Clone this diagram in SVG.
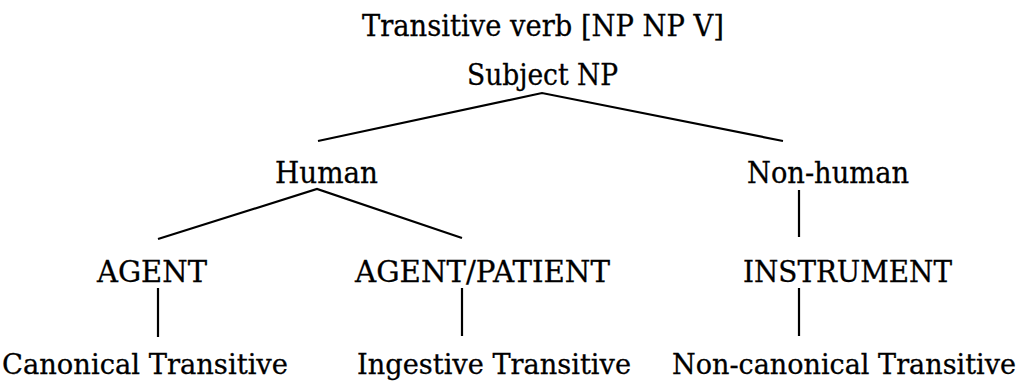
<svg xmlns="http://www.w3.org/2000/svg" width="1022" height="382" viewBox="0 0 1022 382">
  <style>
    .lbl { font-family: "DejaVu Serif", "Liberation Serif", serif; font-size: 29px; fill: #000; stroke: #000; stroke-width: 0.3; }
    .leaf { font-size: 28px; }
    .edge { fill: none; stroke: #000; stroke-width: 2.2; stroke-linejoin: miter; stroke-linecap: butt; }
  </style>
  <rect width="1022" height="382" fill="#fff"/>

  <!-- tree branches -->
  <g id="connectors">
    <path class="edge" d="M318,141 L542,93 L783,141"/>
    <path class="edge" d="M158,239 L317,189 L462,238"/>
    <path class="edge" d="M799,190 V237"/>
    <path class="edge" d="M158,288 V337"/>
    <path class="edge" d="M462,288 V336"/>
    <path class="edge" d="M799,288 V336"/>
  </g>

  <g id="title">
    <text class="lbl" x="362" y="36" textLength="362" lengthAdjust="spacingAndGlyphs">Transitive verb [NP NP V]</text>
  </g>
  <g id="subject-np">
    <text class="lbl" x="467" y="85" textLength="151" lengthAdjust="spacingAndGlyphs">Subject NP</text>
  </g>
  <g id="human">
    <text class="lbl" x="275" y="183" textLength="103" lengthAdjust="spacingAndGlyphs">Human</text>
  </g>
  <g id="non-human">
    <text class="lbl" x="747" y="183" textLength="162" lengthAdjust="spacingAndGlyphs">Non-human</text>
  </g>
  <g id="agent">
    <text class="lbl" x="97" y="282" textLength="110" lengthAdjust="spacingAndGlyphs">AGENT</text>
  </g>
  <g id="agent-patient">
    <text class="lbl" x="355" y="282" textLength="255" lengthAdjust="spacingAndGlyphs">AGENT/PATIENT</text>
  </g>
  <g id="instrument">
    <text class="lbl" x="743" y="282" textLength="209" lengthAdjust="spacingAndGlyphs">INSTRUMENT</text>
  </g>
  <g id="canonical">
    <text class="lbl leaf" x="2" y="374" textLength="286" lengthAdjust="spacingAndGlyphs">Canonical Transitive</text>
  </g>
  <g id="ingestive">
    <text class="lbl leaf" x="357" y="374" textLength="274" lengthAdjust="spacingAndGlyphs">Ingestive Transitive</text>
  </g>
  <g id="non-canonical">
    <text class="lbl leaf" x="672" y="374" font-size="27" style="font-size:27px" textLength="344" lengthAdjust="spacingAndGlyphs">Non-canonical Transitive</text>
  </g>
</svg>
